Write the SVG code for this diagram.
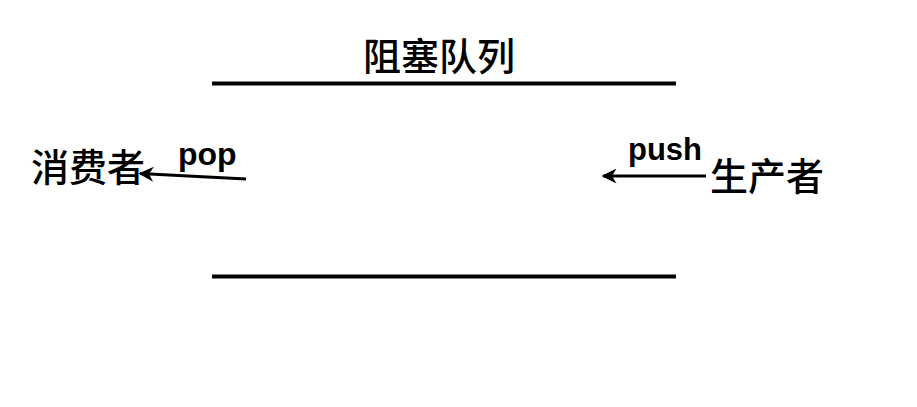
<svg xmlns="http://www.w3.org/2000/svg" width="917" height="407" viewBox="0 0 917 407">
<style>
.cjk{font-family:"Noto Sans CJK SC","Noto Sans",sans-serif;font-size:38px;font-weight:500;fill:#000}
.lat{font-family:"Liberation Sans",Arial,sans-serif;font-weight:bold;fill:#000}
.wall{stroke:#000;stroke-width:4;fill:none}
.arr{stroke:#000;stroke-width:3;fill:none;marker-end:url(#ah)}
</style>
<defs>
<marker id="ah" viewBox="0 0 10 10" refX="9" refY="5" markerWidth="5" markerHeight="5" orient="auto" markerUnits="strokeWidth">
<path d="M0,0 L10,5 L0,10 L3,5 Z" fill="#000"/>
</marker>
</defs>
<g id="queue">
<line class="wall" x1="212" y1="83.5" x2="676" y2="83.5"/>
<line class="wall" x1="212" y1="276.5" x2="676" y2="276.5"/>
<text class="cjk" x="439" y="70" text-anchor="middle">阻塞队列</text>
</g>
<g id="consumer">
<text class="cjk" x="31" y="181">消费者</text>
</g>
<g id="producer">
<text class="cjk" x="710" y="190">生产者</text>
</g>
<g id="connectors">
<line class="arr" x1="246" y1="179" x2="140" y2="173.5"/>
<text class="lat" x="178" y="165" font-size="32">pop</text>
<line class="arr" x1="706" y1="176" x2="603" y2="176"/>
<text class="lat" x="628" y="160" font-size="31">push</text>
</g>
</svg>
